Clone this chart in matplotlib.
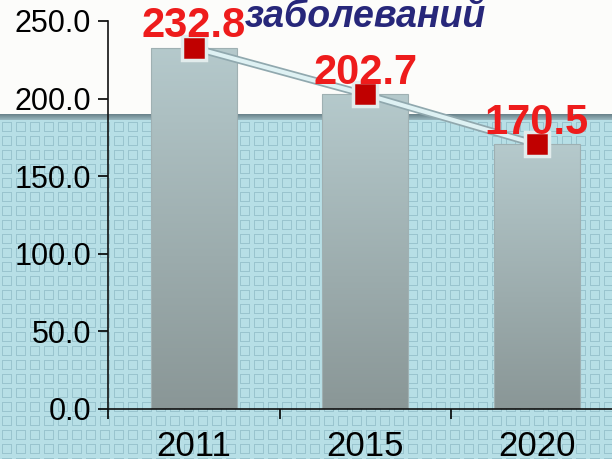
import numpy as np
import matplotlib
matplotlib.use("Agg")
import matplotlib.pyplot as plt

plt.rcParams['font.family'] = ['Liberation Sans', 'DejaVu Sans']

years = ['2011', '2015', '2020']
values = [232.8, 202.7, 170.5]
y_ticks = [0, 50, 100, 150, 200, 250]
title_tail = 'заболеваний'

W, H = 612, 459
fig = plt.figure(figsize=(W / 100, H / 100), dpi=100)
fig.patch.set_facecolor('#fdfdfb')

# background: white top, dark band, blue patterned area
bg_img = np.ones((H, W, 3)) * np.array([0.992, 0.992, 0.984])
band_top, band_bot = 114, 120
for r in range(band_top, band_bot):
    t = (r - band_top) / (band_bot - band_top)
    bg_img[r, :] = (1 - t) * np.array([0.42, 0.52, 0.55]) + t * np.array([0.62, 0.74, 0.77])
base = np.array([0.72, 0.875, 0.905])
line_c = np.array([0.60, 0.77, 0.81])
rr, cc = np.mgrid[band_bot:H, 0:W]
lr = (rr - band_bot) % 14
lc = cc % 14
outline = (((lr == 2) | (lr == 11)) & (lc >= 2) & (lc <= 11)) | \
          (((lc == 2) | (lc == 11)) & (lr >= 2) & (lr <= 11))
region = np.where(outline[..., None], line_c, base)
bg_img[band_bot:H] = region
bg = fig.add_axes([0, 0, 1, 1], zorder=-1)
bg.imshow(bg_img, extent=[0, 1, 0, 1], aspect='auto', interpolation='nearest')
bg.axis('off')

ax = fig.add_axes([108 / W, 1 - 409 / H, 3 * 171.5 / W, 388 / H])
ax.patch.set_alpha(0)

x = np.arange(len(years))
bars = ax.bar(x, values, width=0.5, color='none', edgecolor='#9fb0b2', linewidth=0.8, zorder=2)

# vertical gradient inside each bar
grad = np.linspace(0, 1, 256)[:, None]
top_c = np.array([0.71, 0.79, 0.80])
bot_c = np.array([0.54, 0.59, 0.59])
grad_img = (1 - grad)[..., None] * top_c + grad[..., None] * bot_c
grad_img = np.repeat(grad_img, 2, axis=1)
for b in bars:
    im = ax.imshow(grad_img, extent=[b.get_x(), b.get_x() + b.get_width(), 0, b.get_height()],
                   aspect='auto', zorder=1.5, interpolation='bilinear')
    im.set_clip_path(b)

ax.plot(x, values, color='#90a8ae', lw=5.5, zorder=3, solid_capstyle='butt')
ax.plot(x, values, color='#def1f3', lw=3, zorder=4, solid_capstyle='butt')
ax.plot(x, values, 's', ms=17, mfc='#c00000', mec='#e2ecec', mew=2.5, zorder=5)

for i, v in enumerate(values):
    ax.annotate(f"{v:.1f}", (i, v), xytext=(0, 7.5), textcoords='offset points',
                ha='center', va='baseline', fontsize=30, fontweight='bold',
                color='#ee1c1c', zorder=6)

ax.set_xlim(-0.5, 2.5)
ax.set_ylim(0, 250)
ax.set_yticks(y_ticks)
ax.set_yticklabels([f"{t:.1f}" for t in y_ticks])
ax.tick_params(axis='y', length=7, width=1.2, pad=5, labelsize=22, colors='black')
ax.set_xticks([-0.5, 0.5, 1.5, 2.5])
ax.set_xticklabels([])
ax.set_xticks(x, minor=True)
ax.set_xticklabels(years, minor=True)
ax.tick_params(axis='x', which='major', length=7, width=1.2)
ax.tick_params(axis='x', which='minor', length=0, pad=15, labelsize=25)

for s in ['top', 'right']:
    ax.spines[s].set_visible(False)
for s in ['left', 'bottom']:
    ax.spines[s].set_linewidth(1.2)
    ax.spines[s].set_color('#111111')

fig.text(365 / W, 1 - 27 / H, title_tail, ha='center', va='baseline', fontsize=27,
         fontweight='bold', fontstyle='italic', color='#27277a', zorder=10)

fig.savefig('out.png', dpi=100)
